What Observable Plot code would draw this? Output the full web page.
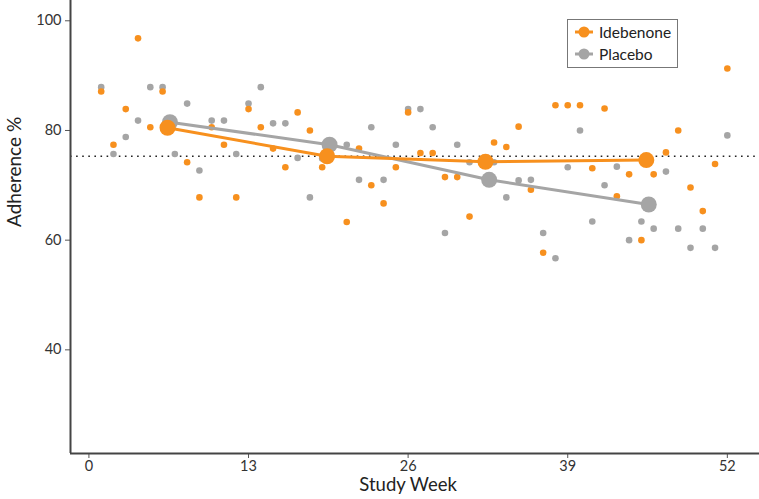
<!DOCTYPE html>
<html>
<head>
<meta charset="utf-8">
<script src="https://cdn.jsdelivr.net/npm/d3@7"></script>
<script src="https://cdn.jsdelivr.net/npm/@observablehq/plot@0.6"></script>
<style>
  html, body { margin: 0; padding: 0; background: #fff; }
  #wrap { position: relative; width: 759px; height: 499px; font-family: Lato, "Open Sans", sans-serif; }
  #legend { position: absolute; left: 567px; top: 19px; width: 111px; height: 49px; border: 1px solid #777; background: #fff; box-sizing: border-box; }
  .item { position: absolute; left: 7px; height: 20px; display: flex; align-items: center; font-size: 15.5px; color: #222; }
  .item svg { margin-right: 6px; }
</style>
</head>
<body>
<div id="wrap"></div>
<script>
// ---- data ----
const ideWeeks = [1,2,3,4,5,6,8,9,10,11,12,13,14,15,16,17,18,19,21,22,23,24,25,26,27,28,29,30,31,33,34,35,36,37,38,39,40,41,42,43,44,45,46,47,48,49,50,51,52];
const ideValues = [87.1,77.4,83.9,96.8,80.6,87.1,74.2,67.8,80.6,77.4,67.8,83.9,80.6,76.7,73.3,83.3,80.0,73.3,63.3,76.7,70.0,66.7,73.3,83.3,75.9,75.9,71.5,71.5,64.3,77.8,77.0,80.7,69.2,57.7,84.6,84.6,84.6,73.1,84.0,68.0,72.0,60.0,72.0,76.0,80.0,69.6,65.3,73.9,91.3];
const plaWeeks = [1,2,3,4,5,6,7,8,9,10,11,12,13,14,15,16,17,18,19,21,22,23,24,25,26,27,28,29,30,31,33,34,35,36,37,38,39,40,41,42,43,44,45,46,47,48,49,50,51,52];
const plaValues = [87.9,75.7,78.8,81.8,87.9,87.9,75.7,84.9,72.7,81.8,81.8,75.7,84.9,87.9,81.3,81.3,75.0,67.8,74.9,77.4,71.0,80.6,71.0,77.4,83.9,83.9,80.6,61.3,77.4,74.2,74.2,67.8,70.9,71.0,61.3,56.7,73.3,80.0,63.4,70.0,73.4,60.0,63.4,62.1,72.5,62.1,58.6,62.1,58.6,79.1];
const ideMeanWeeks = [6.4, 19.4, 32.3, 45.4];
const ideMeans = [80.5, 75.3, 74.3, 74.6];
const plaMeanWeeks = [6.6, 19.6, 32.6, 45.6];
const plaMeans = [81.5, 77.4, 71.0, 66.5];
const referenceLine = 75.3;
const xTicks = [0, 13, 26, 39, 52];
const yTicks = [40, 60, 80, 100];
const groups = ["Idebenone", "Placebo"];
const colors = ["#f7901e", "#a5a5a5"];

const ORANGE = colors[0], GRAY = colors[1];
const toRows = (ws, vs) => ws.map((w, i) => ({week: w, value: vs[i]}));
const ide = toRows(ideWeeks, ideValues);
const pla = toRows(plaWeeks, plaValues);
const ideM = toRows(ideMeanWeeks, ideMeans);
const plaM = toRows(plaMeanWeeks, plaMeans);

const X0 = -1.5, X1 = 54.62, Y0 = 21.1, Y1 = 103.7;
const font = "Lato, 'Open Sans', sans-serif";

const chart = Plot.plot({
  width: 759, height: 499,
  marginLeft: 70, marginRight: 0, marginTop: 0, marginBottom: 46,
  style: {fontFamily: font, background: "#fff"},
  x: {domain: [X0, X1]},
  y: {domain: [Y0, Y1]},
  marks: [
    Plot.axisX({ticks: xTicks, tickSize: 5, tickPadding: 2, fontSize: 14.5, color: "#333", stroke: "#555", label: null}),
    Plot.axisY({ticks: yTicks, tickSize: 5, tickPadding: 4, fontSize: 14.5, color: "#333", stroke: "#555", label: null}),
    Plot.ruleY([referenceLine], {stroke: "#222", strokeWidth: 1.6, strokeDasharray: "1.6,4.5"}),
    Plot.dot(pla, {x: "week", y: "value", r: 3.3, fill: GRAY}),
    Plot.dot(ide, {x: "week", y: "value", r: 3.3, fill: ORANGE}),
    Plot.line(plaM, {x: "week", y: "value", stroke: GRAY, strokeWidth: 3}),
    Plot.dot(plaM, {x: "week", y: "value", r: 8, fill: GRAY}),
    Plot.line(ideM, {x: "week", y: "value", stroke: ORANGE, strokeWidth: 3}),
    Plot.dot(ideM, {x: "week", y: "value", r: 8, fill: ORANGE}),
    Plot.ruleX([X0], {y1: Y0, y2: Y1, stroke: "#444", strokeWidth: 2}),
    Plot.ruleY([Y0], {x1: X0, x2: X1, stroke: "#444", strokeWidth: 2}),
    Plot.text(["Study Week"], {x: 26, frameAnchor: "bottom", dy: 37, fontSize: 18.5, fill: "#222"}),
    Plot.text(["Adherence %"], {frameAnchor: "left", dx: -56, rotate: -90, fontSize: 19, fill: "#222"})
  ]
});

const wrap = document.getElementById("wrap");
wrap.appendChild(chart);

const legend = document.createElement("div");
legend.id = "legend";
groups.forEach((g, i) => {
  const item = document.createElement("div");
  item.className = "item";
  item.style.top = (i === 0 ? 2 : 24) + "px";
  item.innerHTML = `<svg width="18" height="12"><line x1="0" y1="6" x2="18" y2="6" stroke="${colors[i]}" stroke-width="3"/><circle cx="9" cy="6" r="5.5" fill="${colors[i]}"/></svg><span>${g}</span>`;
  legend.appendChild(item);
});
wrap.appendChild(legend);
</script>
</body>
</html>
